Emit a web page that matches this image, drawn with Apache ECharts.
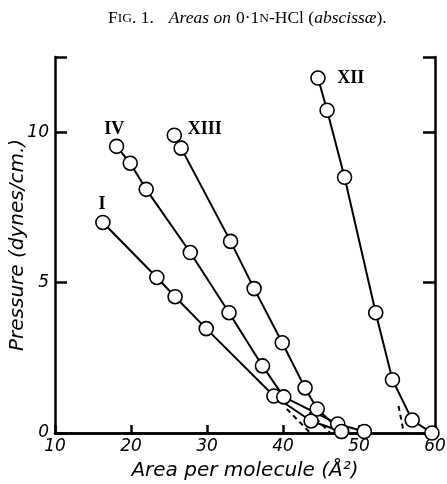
<!DOCTYPE html>
<html><head><meta charset="utf-8">
<script src="https://cdn.jsdelivr.net/npm/echarts@6/dist/echarts.min.js"></script>
<style>html,body{margin:0;padding:0;background:#fff}#c{width:447px;height:484px}</style>
</head><body><div id="c"></div>
<script>
// Data: [area (Å²), pressure (dynes/cm.)]
const curveI    = [[16.3,7.0],[23.4,5.17],[25.8,4.53],[29.9,3.47],[38.8,1.23],[43.7,0.4],[47.7,0.05]];
const curveIV   = [[18.1,9.53],[19.9,8.97],[22.0,8.1],[27.8,6.0],[32.9,4.0],[37.3,2.23],[40.1,1.2],[47.2,0.3],[50.7,0.05]];
const curveXIII = [[25.7,9.9],[26.6,9.47],[33.1,6.37],[36.2,4.8],[39.9,3.0],[42.9,1.5],[44.5,0.8],[47.7,0.05]];
const curveXII  = [[44.6,11.8],[45.8,10.73],[48.1,8.5],[52.2,4.0],[54.4,1.77],[57.0,0.43],[59.6,0.0]];
const dashI   = [[40.5,0.8],[43.6,0]];
const dashIV  = [[43.5,0.7],[46.2,0]];
const dashXII = [[55.2,0.9],[55.9,0]];
const curveNames = ['I','IV','XIII','XII'];
const labelPos = [[16.2,7.6],[17.8,10.1],[29.7,10.1],[48.9,11.8]];
const xTicks = [10,20,30,40,50,60];
const yTicks = [0,5,10];

const chart = echarts.init(document.getElementById('c'), null, {renderer:'canvas'});
const lineSeries = (d)=>({type:'line',data:d,symbol:'circle',symbolSize:14,showSymbol:true,
  lineStyle:{color:'#000',width:2},itemStyle:{color:'#fff',borderColor:'#000',borderWidth:1.6},z:3,animation:false});
const dashSeries = (d)=>({type:'line',data:d,symbol:'none',lineStyle:{color:'#000',width:2,type:[5,4]},z:2,animation:false});
const axisFont = {fontFamily:'DejaVu Sans',fontStyle:'italic',fontSize:17,color:'#000'};
const nameFont = {fontFamily:'DejaVu Sans',fontStyle:'italic',fontSize:20,color:'#000'};
chart.setOption({
  animation:false,
  title:{text:'{sc|F}{scs|IG}{sc|. 1.}   {it|Areas on} {sc|0·1}{scs|N}{sc|-HCl (}{it|abscissæ}{sc|).}',left:103,top:4,
    textStyle:{fontWeight:'normal',rich:{sc:{fontFamily:'Liberation Serif',fontWeight:'normal',fontSize:17.5,color:'#000'},
      scs:{fontFamily:'Liberation Serif',fontWeight:'normal',fontSize:13.5,color:'#000'},
      it:{fontFamily:'Liberation Serif',fontWeight:'normal',fontStyle:'italic',fontSize:17.5,color:'#000'}}}},
  grid:{left:55,right:12,top:57,bottom:51,containLabel:false,outerBoundsMode:'none'},
  xAxis:[{type:'value',min:10,max:60,interval:10,
    axisLine:{lineStyle:{color:'#000',width:2.5}},axisTick:{inside:true,length:8,lineStyle:{width:2.5,color:'#000'}},
    splitLine:{show:false},axisLabel:Object.assign({margin:5,formatter:(v)=>xTicks.includes(v)?String(v):''},axisFont),
    name:'Area per molecule (Å²)',nameLocation:'middle',nameGap:28,nameMoveOverlap:false,nameTextStyle:nameFont},
    {type:'value',position:'top',min:10,max:60,interval:10,axisLine:{lineStyle:{color:'#000',width:2.5}},
    axisTick:{show:false},axisLabel:{show:false},splitLine:{show:false}}],
  yAxis:[{type:'value',min:0,max:12.5,interval:5,
    axisLine:{lineStyle:{color:'#000',width:2.5}},axisTick:{inside:true,length:12,lineStyle:{width:2.5,color:'#000'}},
    splitLine:{show:false},axisLabel:Object.assign({margin:6,formatter:(v)=>yTicks.includes(v)?String(v):''},axisFont),
    name:'Pressure (dynes/cm.)',nameLocation:'middle',nameGap:27,nameMoveOverlap:false,nameTextStyle:nameFont},
    {type:'value',position:'right',min:0,max:12.5,interval:5,axisLine:{lineStyle:{color:'#000',width:2.5}},
    axisTick:{inside:true,length:12,lineStyle:{width:2.5,color:'#000'}},axisLabel:{show:false},splitLine:{show:false}}],
  series:[
    lineSeries(curveI),lineSeries(curveIV),lineSeries(curveXIII),lineSeries(curveXII),
    dashSeries(dashI),dashSeries(dashIV),dashSeries(dashXII),
    {type:'scatter',symbolSize:1,itemStyle:{opacity:0},data:curveNames.map((n,i)=>({name:n,value:labelPos[i]})),
     label:{show:true,position:'inside',opacity:1,formatter:(p)=>p.name,fontFamily:'Liberation Serif',fontWeight:'bold',fontSize:18,color:'#000'},z:4}
  ]
});
</script></body></html>
